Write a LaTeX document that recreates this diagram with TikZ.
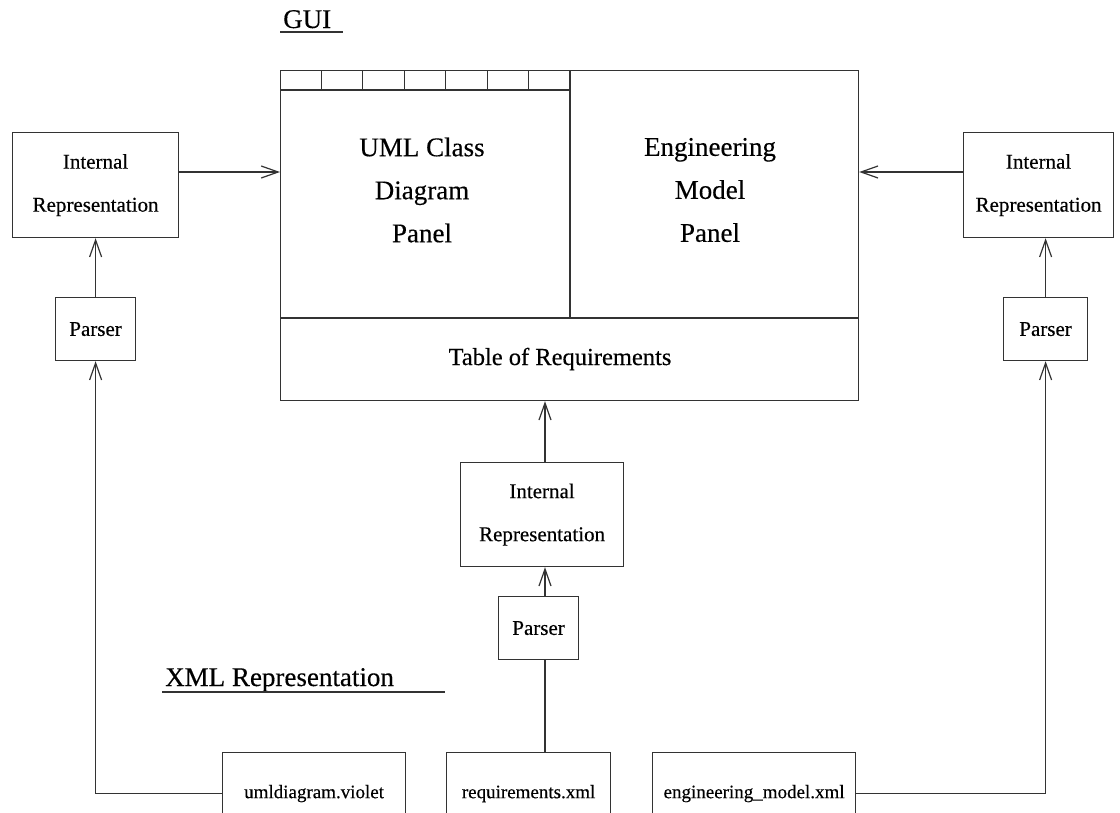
\documentclass[tikz,border=0pt]{standalone}
\usepackage{fontspec}
\setmainfont{Liberation Serif}[FakeBold=0.3]
\usetikzlibrary{arrows.meta}
\begin{document}
\begin{tikzpicture}[x=1pt,y=-1pt,
  ln/.style={draw=black!80, line width=1.2pt},
  arr/.style={ln, -{Straight Barb[length=17pt,width=12pt,line width=1.2pt]}},
  box/.style={ln, anchor=north west, inner sep=0pt, align=center},
  irtext/.style={font=\fontsize{21}{43}\selectfont},
  paneltext/.style={font=\fontsize{27}{43}\selectfont, align=center},
  filetext/.style={font=\fontsize{19}{22}\selectfont},
  title/.style={font=\fontsize{27}{30}\selectfont, anchor=base west, inner sep=0pt}]
\clip (0,0) rectangle (1120,812);
\fill[white] (0,0) rectangle (1120,812);

% section titles
\node[title] (guil) at (283,28) {GUI};
\draw[ln] (280,32) -- (343,32);
\node[title] (xmll) at (165,686) {XML Representation};
\draw[ln] (162,692) -- (445,692);

% GUI window with tab strip, two panels and the requirements table
\node[box, minimum width=578, minimum height=330] (gui) at (280,70) {};
\draw[ln] (280,90) -- (570,90);
\foreach \k in {1,...,6} \draw[ln] ({280+\k*41.43},70) -- ({280+\k*41.43},90);
\draw[ln] (570,70) -- (570,318);
\draw[ln] (280,318) -- (858,318);
\node[paneltext] (umlp) at (422,190) {UML Class\\Diagram\\Panel};
\node[paneltext] (engp) at (710,190) {Engineering\\Model\\Panel};
\node[font=\fontsize{24.5}{28}\selectfont] (treq) at (560,359) {Table of Requirements};

% internal representations
\node[box, irtext, minimum width=166, minimum height=105] (irl) at (12,132) {Internal\\Representation};
\node[box, irtext, minimum width=150, minimum height=105] (irr) at (963,132) {Internal\\Representation};
\node[box, irtext, minimum width=163, minimum height=104] (irm) at (460,462) {Internal\\Representation};

% parsers
\node[box, irtext, minimum width=80, minimum height=63] (pl) at (55,297) {Parser};
\node[box, irtext, minimum width=84, minimum height=63] (pr) at (1003,297) {Parser};
\node[box, irtext, minimum width=80, minimum height=63] (pm) at (498,596) {Parser};

% XML files
\node[box, filetext, minimum width=183, minimum height=82] (fu) at (222,752) {umldiagram.violet};
\node[box, filetext, minimum width=164, minimum height=82] (fr) at (446,752) {requirements.xml};
\node[box, filetext, minimum width=203, minimum height=82] (fe) at (652,752) {engineering\_model.xml};

% connectors
\coordinate (ay) at (0,172);
\coordinate (cx) at (545,0);
\draw[arr] (irl.east |- ay) -- (gui.west |- ay);
\draw[arr] (irr.west |- ay) -- (gui.east |- ay);
\draw[arr] (pl.north) -- (irl.south);
\draw[arr] (pr.north) -- (irr.south -| pr.north);
\draw[arr] (fu.west) -| (pl.south);
\draw[arr] (fe.east) -| (pr.south);
\draw[ln] (fr.north -| cx) -- (pm.south -| cx);
\draw[arr] (pm.north -| cx) -- (irm.south -| cx);
\draw[arr] (irm.north -| cx) -- (gui.south -| cx);
\end{tikzpicture}
\end{document}
